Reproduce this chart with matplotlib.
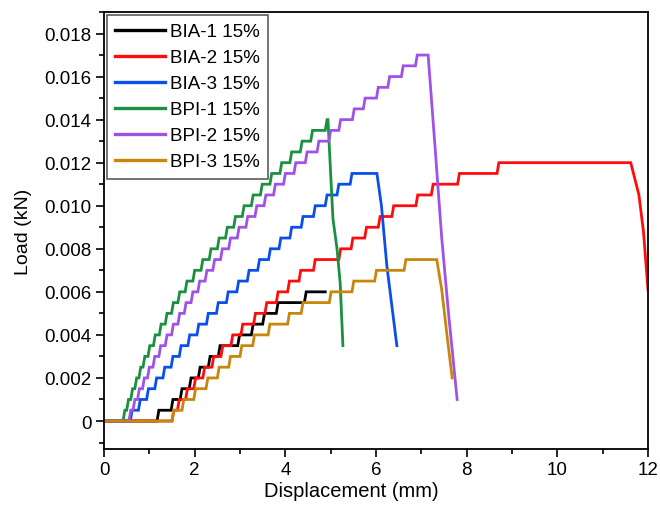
import matplotlib
matplotlib.use("Agg")
import matplotlib.pyplot as plt
from matplotlib.ticker import MultipleLocator, FuncFormatter

plt.rcParams['font.family'] = ['Liberation Sans', 'DejaVu Sans']

# ---- data (displacement in mm where the load steps up, load in kN) ----
bia1_rise_x = [1.17, 1.48, 1.68, 1.88, 2.08, 2.30, 2.52, 2.95, 3.25, 3.50, 3.80, 4.42]
bia1_levels = [0.0005, 0.001, 0.0015, 0.002, 0.0025, 0.003, 0.0035, 0.004, 0.0045, 0.005, 0.0055, 0.006]
bia1_tail_x = [4.88]
bia1_tail_y = [0.006]

bia2_rise_x = [1.50, 1.62, 1.80, 1.98, 2.18, 2.38, 2.58, 2.80, 3.02, 3.30, 3.55, 3.80,
               4.05, 4.30, 4.62, 5.18, 5.45, 5.75, 6.05, 6.35, 6.88, 7.22, 7.80, 8.67]
bia2_levels = [0.0005, 0.001, 0.0015, 0.002, 0.0025, 0.003, 0.0035, 0.004, 0.0045, 0.005, 0.0055, 0.006,
               0.0065, 0.007, 0.0075, 0.008, 0.0085, 0.009, 0.0095, 0.010, 0.0105, 0.011, 0.0115, 0.012]
bia2_tail_x = [11.62, 11.80, 11.90, 12.0]
bia2_tail_y = [0.012, 0.0105, 0.0088, 0.0061]

bia3_rise_x = [0.58, 0.76, 0.94, 1.12, 1.30, 1.48, 1.66, 1.85, 2.05, 2.26, 2.48, 2.70,
               2.93, 3.16, 3.39, 3.63, 3.86, 4.10, 4.35, 4.62, 4.88, 5.14, 5.43]
bia3_levels = [0.0005, 0.001, 0.0015, 0.002, 0.0025, 0.003, 0.0035, 0.004, 0.0045, 0.005, 0.0055, 0.006,
               0.0065, 0.007, 0.0075, 0.008, 0.0085, 0.009, 0.0095, 0.010, 0.0105, 0.011, 0.0115]
bia3_tail_x = [6.02, 6.12, 6.24, 6.46]
bia3_tail_y = [0.0115, 0.0100, 0.0072, 0.0035]

bpi1_rise_x = [0.42, 0.50, 0.59, 0.68, 0.77, 0.86, 0.97, 1.09, 1.22, 1.35, 1.49, 1.63, 1.79, 1.96,
               2.14, 2.32, 2.50, 2.68, 2.86, 3.05, 3.25, 3.45, 3.66, 3.88, 4.10, 4.33, 4.56, 4.88]
bpi1_levels = [0.0005, 0.001, 0.0015, 0.002, 0.0025, 0.003, 0.0035, 0.004, 0.0045, 0.005, 0.0055, 0.006,
               0.0065, 0.007, 0.0075, 0.008, 0.0085, 0.009, 0.0095, 0.010, 0.0105, 0.011, 0.0115, 0.012,
               0.0125, 0.013, 0.0135, 0.014]
bpi1_tail_x = [4.94, 5.05, 5.14, 5.21, 5.27]
bpi1_tail_y = [0.014, 0.0094, 0.008, 0.0064, 0.0035]

bpi2_rise_x = [0.55, 0.64, 0.74, 0.85, 0.96, 1.08, 1.21, 1.35, 1.49, 1.63, 1.77, 1.92, 2.07, 2.23,
               2.40, 2.57, 2.75, 2.94, 3.13, 3.33, 3.53, 3.74, 3.96, 4.19, 4.44, 4.70, 4.96, 5.18,
               5.48, 5.72, 6.01, 6.26, 6.56, 6.87]
bpi2_levels = [0.0005, 0.001, 0.0015, 0.002, 0.0025, 0.003, 0.0035, 0.004, 0.0045, 0.005, 0.0055, 0.006,
               0.0065, 0.007, 0.0075, 0.008, 0.0085, 0.009, 0.0095, 0.010, 0.0105, 0.011, 0.0115, 0.012,
               0.0125, 0.013, 0.0135, 0.014, 0.0145, 0.015, 0.0155, 0.016, 0.0165, 0.017]
bpi2_tail_x = [7.15, 7.30, 7.45, 7.60, 7.79]
bpi2_tail_y = [0.017, 0.0128, 0.0085, 0.0050, 0.001]

bpi3_rise_x = [1.50, 1.72, 1.98, 2.25, 2.50, 2.75, 3.00, 3.28, 3.62, 4.05, 4.35, 4.97, 5.47, 5.97, 6.62]
bpi3_levels = [0.0005, 0.001, 0.0015, 0.002, 0.0025, 0.003, 0.0035, 0.004, 0.0045, 0.005, 0.0055,
               0.006, 0.0065, 0.007, 0.0075]
bpi3_tail_x = [7.34, 7.45, 7.56, 7.68]
bpi3_tail_y = [0.0075, 0.0061, 0.0041, 0.002]

labels = ["BIA-1 15%", "BIA-2 15%", "BIA-3 15%", "BPI-1 15%", "BPI-2 15%", "BPI-3 15%"]
colors = ["#000000", "#ff0d0d", "#0a4fe6", "#1b9040", "#a052e6", "#c8860d"]

series = [
    (bia1_rise_x, bia1_levels, bia1_tail_x, bia1_tail_y),
    (bia2_rise_x, bia2_levels, bia2_tail_x, bia2_tail_y),
    (bia3_rise_x, bia3_levels, bia3_tail_x, bia3_tail_y),
    (bpi1_rise_x, bpi1_levels, bpi1_tail_x, bpi1_tail_y),
    (bpi2_rise_x, bpi2_levels, bpi2_tail_x, bpi2_tail_y),
    (bpi3_rise_x, bpi3_levels, bpi3_tail_x, bpi3_tail_y),
]


def staircase(rise_x, levels, tail_x, tail_y):
    xs, ys = [0.0], [0.0]
    prev = 0.0
    for xr, lv in zip(rise_x, levels):
        xs += [xr, xr + 0.04]
        ys += [prev, lv]
        prev = lv
    xs += list(tail_x)
    ys += list(tail_y)
    return xs, ys


fig = plt.figure(figsize=(6.6, 5.06), dpi=100)
ax = fig.add_axes([0.1576, 0.1107, 0.8242, 0.8636])

for (rx, lv, tx, ty), lab, col in zip(series, labels, colors):
    xs, ys = staircase(rx, lv, tx, ty)
    ax.plot(xs, ys, color=col, lw=2.0, label=lab, solid_joinstyle='miter')

ax.set_xlim(0, 12)
ax.set_ylim(-0.0013, 0.0190)
ax.xaxis.set_major_locator(MultipleLocator(2))
ax.xaxis.set_minor_locator(MultipleLocator(1))
ax.yaxis.set_major_locator(MultipleLocator(0.002))
ax.yaxis.set_minor_locator(MultipleLocator(0.001))
ax.yaxis.set_major_formatter(FuncFormatter(lambda v, p: "0" if abs(v) < 1e-9 else f"{v:.3f}"))
ax.xaxis.set_major_formatter(FuncFormatter(lambda v, p: f"{v:.0f}"))

ax.tick_params(which='both', direction='out', top=False, right=False, labelsize=13.5, width=1.2)
ax.tick_params(which='major', length=6, pad=3)
ax.tick_params(which='minor', length=3.5)
for s in ax.spines.values():
    s.set_linewidth(1.3)

ax.set_xlabel("Displacement (mm)", fontsize=14.5)
ax.xaxis.set_label_coords(0.454, -0.073)
ax.set_ylabel("Load (kN)", fontsize=14, labelpad=9)

leg = ax.legend(loc='upper left', fontsize=13.5, frameon=True, fancybox=False,
                edgecolor='#333333', handlelength=2.65, handletextpad=0.25,
                borderaxespad=0.15, labelspacing=0.47, borderpad=0.45)
leg.get_frame().set_linewidth(1.2)
for h in leg.get_lines():
    h.set_linewidth(2.4)

fig.savefig("out.png", dpi=100)
